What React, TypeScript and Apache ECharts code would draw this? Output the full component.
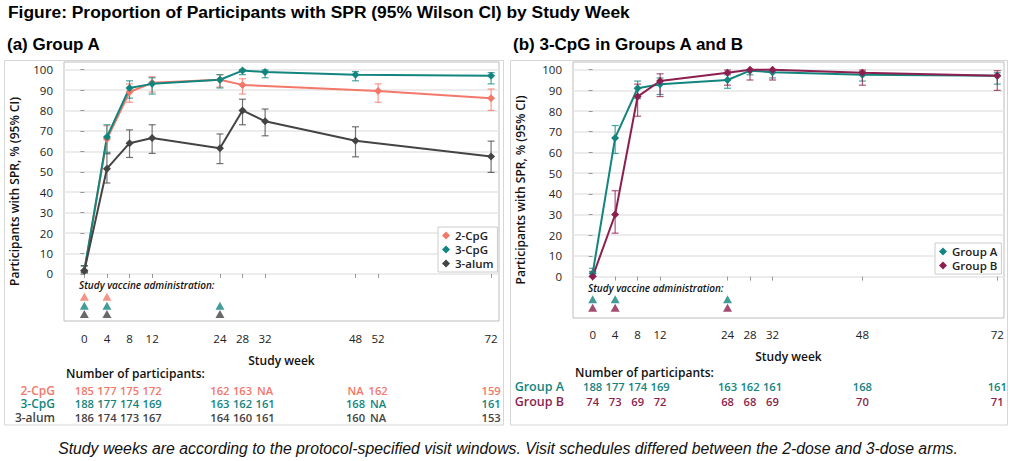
import React, { useEffect, useRef } from "react";
import * as echarts from "echarts";

const TITLE = "Figure: Proportion of Participants with SPR (95% Wilson CI) by Study Week";
const PANEL_A = "(a) Group A";
const PANEL_B = "(b) 3-CpG in Groups A and B";
const FOOTNOTE =
  "Study weeks are according to the protocol-specified visit windows. Visit schedules differed between the 2-dose and 3-dose arms.";
const Y_NAME = "Participants with SPR, % (95% CI)";
const X_NAME = "Study week";
const DOSE_TEXT = "Study vaccine administration:";
const N_TEXT = "Number of participants:";

const yTicks = [0, 10, 20, 30, 40, 50, 60, 70, 80, 90, 100];
const xTicksLeft = [0, 4, 8, 12, 24, 28, 32, 48, 52, 72];
const xTicksRight = [0, 4, 8, 12, 24, 28, 32, 48, 72];

// Panel (a)
const cpg2Weeks = [0, 4, 8, 12, 24, 28, 52, 72];
const cpg2Pct = [1.6, 66, 89, 93.5, 95, 92.5, 89.5, 86];
const cpg2Lo = [0.6, 59, 84, 89, 91.5, 88, 84, 80];
const cpg2Hi = [4, 72.5, 93, 96.5, 97.5, 95.5, 93, 90.5];

const cpg3Weeks = [0, 4, 8, 12, 24, 28, 32, 48, 72];
const cpg3Pct = [1.6, 67, 91, 93, 95, 99.5, 98.8, 97.5, 97];
const cpg3Lo = [0.6, 59.5, 86, 88, 91, 97.5, 96, 94.5, 93];
const cpg3Hi = [4, 73, 94.5, 96, 97.5, 100, 99.8, 99, 98.5];

const alumWeeks = [0, 4, 8, 12, 24, 28, 32, 48, 72];
const alumPct = [1.6, 51.5, 64, 66.5, 61.5, 80, 74.7, 65.2, 57.5];
const alumLo = [0.6, 44.5, 57, 59, 54, 73, 67.6, 57.3, 49.7];
const alumHi = [4, 58.8, 70.5, 73, 68.5, 85.5, 80.7, 72, 65];

// Panel (b)
const grpAWeeks = [0, 4, 8, 12, 24, 28, 32, 48, 72];
const grpAPct = [1.6, 67, 91, 93, 95, 99.5, 98.8, 97.5, 97];
const grpALo = [0.6, 59.5, 86, 88, 91, 97.5, 96, 94.5, 93];
const grpAHi = [4, 73, 94.5, 96, 97.5, 100, 99.8, 99, 98.5];

const grpBWeeks = [0, 4, 8, 12, 24, 28, 32, 48, 72];
const grpBPct = [0, 30, 87, 94.5, 98.5, 100, 100, 98.5, 97];
const grpBLo = [0, 21, 77.5, 87, 92.5, 95, 95, 92.5, 90];
const grpBHi = [2.5, 41.5, 93, 98, 99.8, 100, 100, 99.8, 99.5];

// Vaccine administration weeks
const dose2CpG = [0, 4];
const dose3CpG = [0, 4, 24];
const dose3alum = [0, 4, 24];
const doseGrpA = [0, 4, 24];
const doseGrpB = [0, 4, 24];

// Number of participants
const nWeeksLeft = [0, 4, 8, 12, 24, 28, 32, 48, 52, 72];
const n2CpG = ["185", "177", "175", "172", "162", "163", "NA", "NA", "162", "159"];
const n3CpG = ["188", "177", "174", "169", "163", "162", "161", "168", "NA", "161"];
const n3alum = ["186", "174", "173", "167", "164", "160", "161", "160", "NA", "153"];
const nWeeksRight = [0, 4, 8, 12, 24, 28, 32, 48, 72];
const nGrpA = ["188", "177", "174", "169", "163", "162", "161", "168", "161"];
const nGrpB = ["74", "73", "69", "72", "68", "68", "69", "70", "71"];

const COL = {
  cpg2: "#F4786A",
  cpg3: "#13857F",
  alum: "#444444",
  grpB: "#8C1F4F",
};

const SANS = '"Open Sans", "Noto Sans", sans-serif';
const ARIAL = '"Liberation Sans", Arial, sans-serif';

function lineSeries(name: string, weeks: number[], vals: number[], color: string, gi: number) {
  return {
    type: "line",
    name,
    xAxisIndex: gi,
    yAxisIndex: gi,
    data: weeks.map((w, i) => [w, vals[i]]),
    symbol: "diamond",
    symbolSize: 8,
    lineStyle: { color, width: 2 },
    itemStyle: { color },
    z: 4,
    silent: true,
  };
}

function errSeries(name: string, weeks: number[], lo: number[], hi: number[], color: string, gi: number) {
  return {
    type: "custom",
    name,
    xAxisIndex: gi,
    yAxisIndex: gi,
    data: weeks.map((w, i) => [w, lo[i], hi[i]]),
    encode: { x: 0, y: [1, 2] },
    renderItem: (params: any, api: any) => {
      const x = api.value(0);
      const a = api.coord([x, api.value(1)]);
      const b = api.coord([x, api.value(2)]);
      const hw = 3.5;
      const st = { stroke: color, lineWidth: 1.2, opacity: 0.75 };
      return {
        type: "group",
        children: [
          { type: "line", shape: { x1: a[0], y1: a[1], x2: b[0], y2: b[1] }, style: st },
          { type: "line", shape: { x1: a[0] - hw, y1: a[1], x2: a[0] + hw, y2: a[1] }, style: st },
          { type: "line", shape: { x1: b[0] - hw, y1: b[1], x2: b[0] + hw, y2: b[1] }, style: st },
        ],
      };
    },
    z: 3,
    silent: true,
  };
}

function doseSeries(name: string, weeks: number[], level: number, color: string, gi: number) {
  return {
    type: "scatter",
    name,
    xAxisIndex: gi,
    yAxisIndex: gi,
    data: weeks.map((w) => [w, level]),
    symbol: "triangle",
    symbolSize: [9, 8],
    itemStyle: { color },
    z: 4,
    silent: true,
  };
}

function countSeries(name: string, weeks: number[], counts: string[], color: string, gi: number, yPix: number) {
  return {
    type: "custom",
    name,
    xAxisIndex: gi,
    yAxisIndex: gi,
    data: weeks.map((w) => [w, 0]),
    renderItem: (params: any, api: any) => {
      const p = api.coord([api.value(0), 0]);
      return {
        type: "text",
        x: p[0],
        y: yPix,
        style: {
          text: counts[params.dataIndex],
          fill: color,
          font: `600 11.2px ${SANS}`,
          textAlign: "center",
          align: "center",
          textVerticalAlign: "middle",
          verticalAlign: "middle",
        },
      };
    },
    z: 5,
    silent: true,
  };
}

function txt(x: number, y: number, text: string, font: string, fill = "#000", align = "left") {
  return {
    type: "text",
    x,
    y,
    silent: true,
    style: {
      text,
      font,
      fill,
      textAlign: align,
      align,
      textVerticalAlign: "middle",
      verticalAlign: "middle",
    },
  };
}

function xAxisCfg(gi: number, min: number, max: number, ticks: number[], margin: number, gap: number) {
  return {
    gridIndex: gi,
    type: "value",
    min,
    max,
    name: X_NAME,
    nameLocation: "middle",
    nameGap: gap,
    nameTextStyle: { fontFamily: SANS, fontWeight: 600, fontSize: 12, color: "#111" },
    axisLine: { show: false },
    axisTick: { show: true, customValues: ticks, length: 4, lineStyle: { color: "#999" } },
    axisLabel: { customValues: ticks, margin, fontFamily: SANS, fontSize: 11.5, color: "#222" },
    splitLine: { show: false },
  };
}

function yAxisCfg(gi: number, min: number, max: number, gap: number) {
  return {
    gridIndex: gi,
    type: "value",
    min,
    max,
    name: Y_NAME,
    nameLocation: "middle",
    nameGap: gap,
    nameTextStyle: { fontFamily: SANS, fontWeight: 600, fontSize: 12, color: "#111" },
    axisLine: { show: false },
    axisTick: { show: true, customValues: yTicks, length: 4, lineStyle: { color: "#999" } },
    axisLabel: { customValues: yTicks, margin: 11, fontFamily: SANS, fontSize: 11.5, color: "#222" },
    splitLine: { show: true, lineStyle: { color: "#e6e6e6", width: 1.5 } },
  };
}

function legendCfg(names: string[], left: number, top: number) {
  return {
    data: names,
    orient: "vertical",
    left,
    top,
    icon: "diamond",
    itemWidth: 8,
    itemHeight: 8,
    itemGap: 1,
    padding: [2, 4, 2, 4],
    borderColor: "#cccccc",
    borderWidth: 1,
    backgroundColor: "#ffffff",
    selectedMode: false,
    textStyle: { fontFamily: SANS, fontWeight: 600, fontSize: 11.5, color: "#222", lineHeight: 13 },
  };
}

export default function App() {
  const ref = useRef<HTMLDivElement>(null);

  useEffect(() => {
    if (!ref.current) return;
    const chart = echarts.init(ref.current, undefined, { renderer: "svg" });

    const option: any = {
      animation: false,
      backgroundColor: "#ffffff",
      grid: [
        { left: 64, top: 62, width: 435, height: 259, show: true, borderColor: "#bdbdbd", borderWidth: 1, backgroundColor: "transparent" },
        { left: 573, top: 62, width: 431, height: 256, show: true, borderColor: "#bdbdbd", borderWidth: 1, backgroundColor: "transparent" },
      ],
      xAxis: [xAxisCfg(0, -3.6, 73.4, xTicksLeft, 11, 33), xAxisCfg(1, -3.5, 73.2, xTicksRight, 10, 32)],
      yAxis: [yAxisCfg(0, -23, 103.7, 44), yAxisCfg(1, -20, 103.7, 47)],
      legend: [legendCfg(["2-CpG", "3-CpG", "3-alum"], 438, 227), legendCfg(["Group A", "Group B"], 935, 243)],
      series: [
        errSeries("2-CpG CI", cpg2Weeks, cpg2Lo, cpg2Hi, COL.cpg2, 0),
        errSeries("3-CpG CI", cpg3Weeks, cpg3Lo, cpg3Hi, COL.cpg3, 0),
        errSeries("3-alum CI", alumWeeks, alumLo, alumHi, COL.alum, 0),
        lineSeries("2-CpG", cpg2Weeks, cpg2Pct, COL.cpg2, 0),
        lineSeries("3-CpG", cpg3Weeks, cpg3Pct, COL.cpg3, 0),
        lineSeries("3-alum", alumWeeks, alumPct, COL.alum, 0),
        doseSeries("2-CpG dose", dose2CpG, -11.1, COL.cpg2, 0),
        doseSeries("3-CpG dose", dose3CpG, -15.5, COL.cpg3, 0),
        doseSeries("3-alum dose", dose3alum, -19.6, COL.alum, 0),
        countSeries("2-CpG n", nWeeksLeft, n2CpG, COL.cpg2, 0, 390),
        countSeries("3-CpG n", nWeeksLeft, n3CpG, COL.cpg3, 0, 403.5),
        countSeries("3-alum n", nWeeksLeft, n3alum, COL.alum, 0, 417.7),

        errSeries("Group A CI", grpAWeeks, grpALo, grpAHi, COL.cpg3, 1),
        errSeries("Group B CI", grpBWeeks, grpBLo, grpBHi, COL.grpB, 1),
        lineSeries("Group A", grpAWeeks, grpAPct, COL.cpg3, 1),
        lineSeries("Group B", grpBWeeks, grpBPct, COL.grpB, 1),
        doseSeries("Group A dose", doseGrpA, -11, COL.cpg3, 1),
        doseSeries("Group B dose", doseGrpB, -15, COL.grpB, 1),
        countSeries("Group A n", nWeeksRight, nGrpA, COL.cpg3, 1, 386.7),
        countSeries("Group B n", nWeeksRight, nGrpB, COL.grpB, 1, 401),
      ],
      graphic: [
        { type: "rect", silent: true, z: -1, shape: { x: 4.5, y: 60.5, width: 499, height: 364.5 }, style: { fill: "none", stroke: "#d6d6d6", lineWidth: 1 } },
        { type: "rect", silent: true, z: -1, shape: { x: 510.5, y: 60.5, width: 497, height: 364.5 }, style: { fill: "none", stroke: "#d6d6d6", lineWidth: 1 } },
        txt(8, 12, TITLE, `bold 17.4px ${ARIAL}`),
        txt(7, 44, PANEL_A, `bold 17px ${ARIAL}`),
        txt(513, 44, PANEL_B, `bold 17px ${ARIAL}`),
        txt(79, 285, DOSE_TEXT, `italic 600 10px ${SANS}`, "#111"),
        txt(588, 288, DOSE_TEXT, `italic 600 10px ${SANS}`, "#111"),
        txt(66, 373, N_TEXT, `600 12px ${SANS}`, "#111"),
        txt(575, 372, N_TEXT, `600 12px ${SANS}`, "#111"),
        txt(55, 390, "2-CpG", `600 12px ${SANS}`, COL.cpg2, "right"),
        txt(55, 403.5, "3-CpG", `600 12px ${SANS}`, COL.cpg3, "right"),
        txt(55, 417.7, "3-alum", `600 12px ${SANS}`, COL.alum, "right"),
        txt(564, 386.7, "Group A", `600 12.5px ${SANS}`, COL.cpg3, "right"),
        txt(564, 401, "Group B", `600 12.5px ${SANS}`, COL.grpB, "right"),
        txt(508, 448, FOOTNOTE, `italic 15.8px ${ARIAL}`, "#111", "center"),
      ],
    };

    chart.setOption(option);
    return () => chart.dispose();
  }, []);

  return (
    <div
      ref={ref}
      style={{ position: "absolute", left: 0, top: 0, width: 1016, height: 461, background: "#fff" }}
    />
  );
}
